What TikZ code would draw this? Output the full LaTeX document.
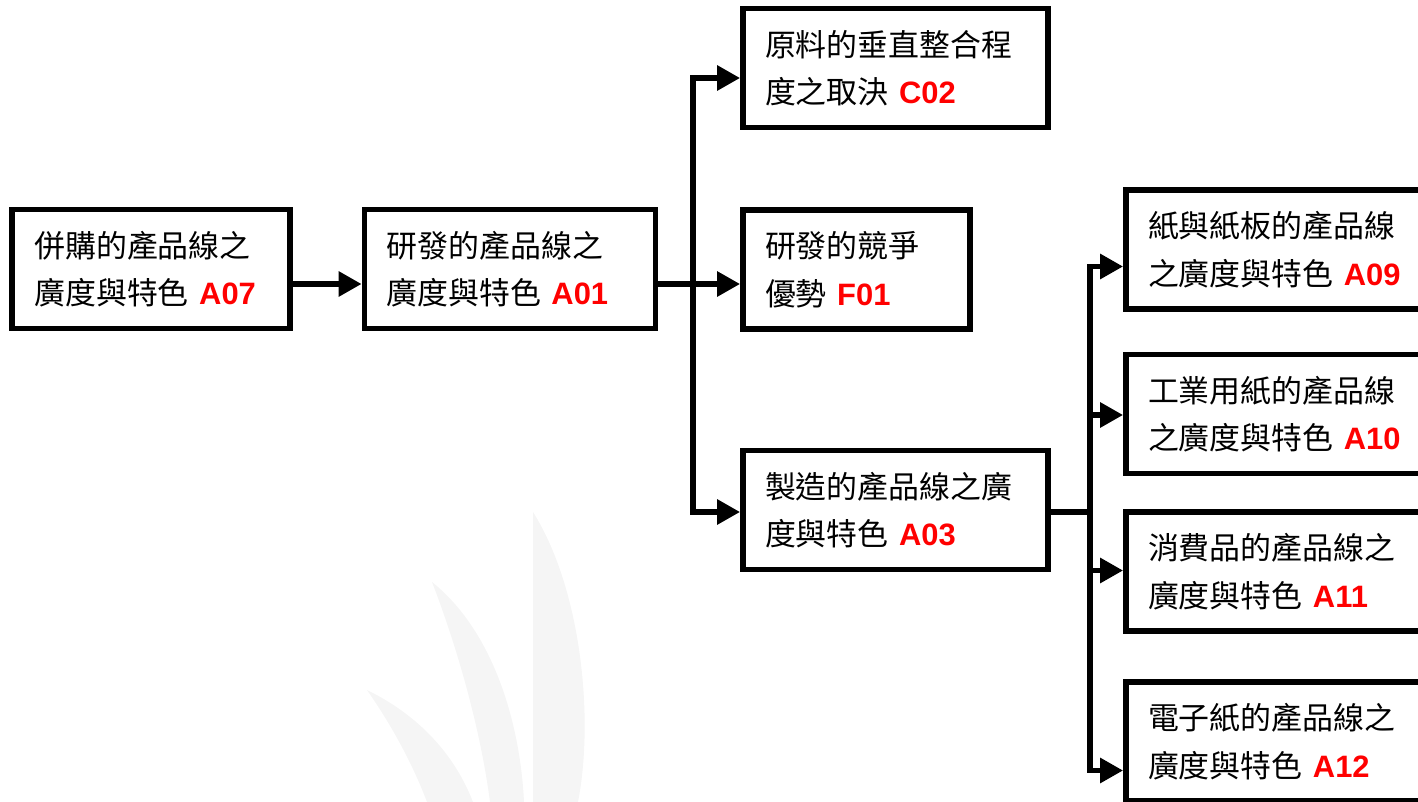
\documentclass[tikz,border=0pt]{standalone}
\usepackage{fontspec}
\setmainfont{Liberation Sans}
\newfontfamily\cjk{Noto Sans CJK TC}
\usetikzlibrary{calc,arrows.meta}
\tikzset{box/.style={draw,line width=3.3pt,inner xsep=0.44cm,text width=#1,align=left,
    minimum height=2.38cm,font=\cjk\fontsize{17.6}{27}\selectfont},
  link/.style={line width=3.3pt},
  arr/.style={link,-{Triangle[length=0.46cm,width=0.48cm]}},
  leaf/.style={fill=black!4,draw=none}}
\newcommand{\idx}[1]{{\rmfamily\bfseries\ \color{red}#1}}

\begin{document}
\begin{tikzpicture}[x=0.02cm,y=-0.02cm]
\useasboundingbox (0,0) rectangle (1418,802);
\clip (0,0) rectangle (1418,802);
\fill[leaf] (533,512) -- (533,802) -- (578,802) .. controls (594,720) and (582,590) .. (533,512) -- cycle;
\fill[leaf] (432,582) .. controls (462,660) and (482,740) .. (490,802) -- (524,802) .. controls (520,720) and (492,630) .. (432,582) -- cycle;
\fill[leaf] (367,690) .. controls (395,730) and (415,770) .. (427,802) -- (473,802) .. controls (452,748) and (412,712) .. (367,690) -- cycle;
\node[box=4.67cm] (a07) at (151,269) {併購的產品線之\\廣度與特色\idx{A07}};
\node[box=4.94cm] (a01) at (510,269) {研發的產品線之\\廣度與特色\idx{A01}};
\node[box=5.22cm] (c02) at (895.5,68) {原料的垂直整合程\\度之取決\idx{C02}};
\node[box=3.66cm] (f01) at (856.5,269.5) {研發的競爭\\優勢\idx{F01}};
\node[box=5.22cm] (a03) at (895.5,510) {製造的產品線之廣\\度與特色\idx{A03}};
\node[box=5.2cm] (a09) at (1278,249.5) {紙與紙板的產品線\\之廣度與特色\idx{A09}};
\node[box=5.2cm] (a10) at (1278,414) {工業用紙的產品線\\之廣度與特色\idx{A10}};
\node[box=5.2cm] (a11) at (1278,571.5) {消費品的產品線之\\廣度與特色\idx{A11}};
\node[box=5.2cm] (a12) at (1278,741.5) {電子紙的產品線之\\廣度與特色\idx{A12}};
\coordinate (mid) at (0,284);
\coordinate (fork1) at (693,284);
\coordinate (fork2) at (1090,512);
\draw[arr] (a07.east |- mid) -- (a01.west |- mid);
\draw[arr] (a01.east |- mid) -- (f01.west |- mid);
\draw[arr] (fork1) |- ($(c02.west)+(0,10)$);
\draw[arr] (fork1) |- (a03.west |- fork2);
\draw[link] (a03.east |- fork2) -- (fork2);
\foreach \n/\d in {a09/17,a10/1,a11/-1,a12/29}
	\draw[arr] (fork2) |- ($(\n.west)+(0,\d)$);
\end{tikzpicture}
\end{document}
